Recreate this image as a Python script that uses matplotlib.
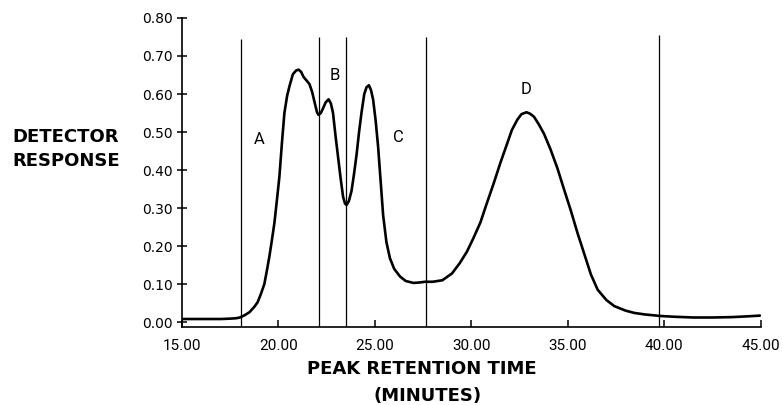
import matplotlib
matplotlib.use("Agg")
import matplotlib.pyplot as plt

# Chromatogram trace (retention time in minutes, detector response)
time_min = [15.0, 16.0, 17.0, 17.5, 17.8, 18.0, 18.25, 18.5, 18.75, 18.92, 19.1, 19.27, 19.4,
            19.53, 19.66, 19.79, 19.92, 20.05, 20.18, 20.31, 20.45, 20.57, 20.75, 20.92, 21.05,
            21.18, 21.3, 21.45, 21.61, 21.75, 21.875, 22.0, 22.08, 22.2, 22.31, 22.45, 22.6,
            22.72, 22.83, 22.96, 23.09, 23.22, 23.35, 23.45, 23.53, 23.65, 23.79, 23.92, 24.05,
            24.18, 24.31, 24.45, 24.57, 24.69, 24.8, 24.91, 25.04, 25.17, 25.3, 25.43, 25.6,
            25.78, 26.0, 26.3, 26.6, 27.0, 27.3, 27.6, 28.0, 28.5, 29.0, 29.4, 29.77, 30.1,
            30.47, 30.8, 31.16, 31.5, 31.86, 32.1, 32.38, 32.6, 32.86, 33.05, 33.25, 33.5,
            33.77, 34.1, 34.46, 34.8, 35.16, 35.5, 35.85, 36.2, 36.55, 37.0, 37.41, 38.0,
            38.45, 39.0, 39.8, 40.5, 41.5, 42.5, 43.5, 44.3, 44.96]
response = [0.008, 0.008, 0.008, 0.009, 0.010, 0.012, 0.018, 0.026, 0.040, 0.052, 0.075, 0.10,
            0.135, 0.172, 0.215, 0.26, 0.32, 0.382, 0.47, 0.55, 0.595, 0.62, 0.652, 0.662,
            0.664, 0.658, 0.645, 0.636, 0.626, 0.605, 0.578, 0.552, 0.545, 0.55, 0.562, 0.578,
            0.586, 0.575, 0.55, 0.49, 0.435, 0.38, 0.33, 0.312, 0.308, 0.318, 0.345, 0.39,
            0.44, 0.50, 0.552, 0.60, 0.618, 0.623, 0.61, 0.585, 0.53, 0.46, 0.37, 0.28, 0.21,
            0.168, 0.14, 0.12, 0.108, 0.103, 0.104, 0.106, 0.106, 0.11, 0.128, 0.155, 0.185,
            0.22, 0.262, 0.312, 0.365, 0.418, 0.47, 0.505, 0.532, 0.547, 0.552, 0.548, 0.54,
            0.52, 0.495, 0.455, 0.405, 0.35, 0.293, 0.235, 0.18, 0.125, 0.085, 0.058, 0.042,
            0.03, 0.024, 0.02, 0.016, 0.014, 0.012, 0.012, 0.013, 0.015, 0.017]

# Fraction cut lines
cut_times = [18.05, 22.1, 23.5, 27.65, 39.75]
cut_tops = [0.744, 0.75, 0.75, 0.75, 0.755]

# Fraction labels
frac_labels = ["A", "B", "C", "D"]
frac_x = [19.02, 22.9, 26.22, 32.86]
frac_y = [0.479, 0.649, 0.486, 0.611]

x_ticks = [15, 20, 25, 30, 35, 40, 45]
x_ticklabels = ["15.00", "20.00", "25.00", "30.00", "35.00", "40.00", "45.00"]
y_ticks = [0.0, 0.1, 0.2, 0.3, 0.4, 0.5, 0.6, 0.7, 0.8]
y_ticklabels = ["0.00", "0.10", "0.20", "0.30", "0.40", "0.50", "0.60", "0.70", "0.80"]

NARROW = ["Roboto", "DejaVu Sans"]

fig = plt.figure(figsize=(7.83, 4.05), dpi=100)
ax = fig.add_axes([0.2324, 0.1926, 0.9715 - 0.2324, 0.9556 - 0.1926])

ax.plot(time_min, response, color="black", lw=1.9, solid_capstyle="round",
        solid_joinstyle="round")
ax.vlines(cut_times, -0.013, cut_tops, color="black", lw=0.9)

for lab, xx, yy in zip(frac_labels, frac_x, frac_y):
    ax.text(xx, yy, lab, ha="center", va="center", fontsize=12, family=NARROW)

ax.set_xlim(15, 45)
ax.set_ylim(-0.013, 0.80)

for s in ["top", "right"]:
    ax.spines[s].set_visible(False)
for s in ["left", "bottom"]:
    ax.spines[s].set_linewidth(1.2)
ax.spines["left"].set_bounds(-0.013, 0.80)

ax.set_xticks(x_ticks)
ax.set_xticklabels(x_ticklabels, family=NARROW, fontsize=11)
ax.set_yticks(y_ticks)
ax.set_yticklabels(y_ticklabels, fontsize=10)
ax.tick_params(axis="x", direction="in", length=5, width=1.1, pad=9)
ax.tick_params(axis="y", direction="inout", length=7, width=1.1, pad=3)

fig.text(12 / 783, 1 - 149 / 405, "DETECTOR\nRESPONSE", ha="left", va="center",
         fontsize=13, fontweight="bold", linespacing=1.45)
fig.text(421.5 / 783, 1 - 369 / 405, "PEAK RETENTION TIME", ha="center", va="center",
         fontsize=13, fontweight="bold")
fig.text(428 / 783, 1 - 396 / 405, "(MINUTES)", ha="center", va="center",
         fontsize=13, fontweight="bold")

fig.savefig("out.png", dpi=100)
